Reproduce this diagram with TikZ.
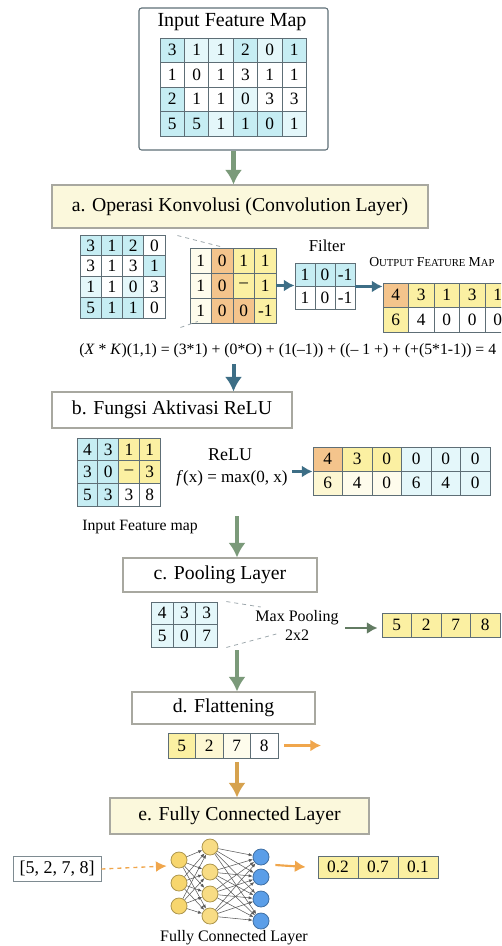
\documentclass[tikz,border=0pt]{standalone}
\usepackage{fontspec}
\setmainfont{Liberation Serif}
\usetikzlibrary{arrows.meta,calc}
\tikzset{>=Latex}

\definecolor{cyn}{HTML}{C6EDF3}
\definecolor{cynpale}{HTML}{E4F7FA}
\definecolor{yel}{HTML}{FBF0A2}
\definecolor{yelpale}{HTML}{FDF7D2}
\definecolor{cream}{HTML}{FEFCEC}
\definecolor{org}{HTML}{F4C48C}
\definecolor{boxyel}{HTML}{FBF8DC}
\definecolor{boxline}{HTML}{A8A8A0}
\definecolor{gridline}{HTML}{5E6E76}
\definecolor{arrgreen}{HTML}{7B9A7A}
\definecolor{arrteal}{HTML}{3D6E86}
\definecolor{arrorange}{HTML}{F0A64C}
\definecolor{arrtan}{HTML}{D6A24E}
\definecolor{nodeyel}{HTML}{F7D66E}
\definecolor{nodeblue}{HTML}{5B9EE8}

\tikzset{
  cell/.style={draw=gridline, line width=0.7pt, inner sep=0pt, font=\fontsize{13}{13}\selectfont},
  stage/.style={draw=boxline, line width=0.8pt, font=\fontsize{14.8}{14.8}\selectfont},
  fatarrow/.style={line width=3.5pt, -{Latex[length=11pt,width=13pt]}},
  thinarrow/.style={line width=1.6pt, -{Latex[length=8pt,width=9pt]}},
  neuron/.style={circle, minimum size=12pt, inner sep=0pt, line width=0.6pt},
  zoomline/.style={gridline!60, dashed, line width=0.6pt}
}

% one row of grid cells: name, left x, top y, cell width, cell height, value/colour list
\newcommand\cellrow[6]{%
  \foreach \v/\c [count=\i] in {#6}
    \node[cell, minimum width=#4*0.75pt, minimum height=#5*0.75pt, fill=\c]
      (#1-\i) at ({#2+(\i-0.5)*#4}, {#3+#5/2}) {\v};
}
% capital letter followed by smaller capitals
\newcommand\capword[2]{{\fontsize{10.3}{10.3}\selectfont #1}{\fontsize{8}{8}\selectfont #2}}

\begin{document}
\begin{tikzpicture}[x=0.75pt, y=-0.75pt]
  \useasboundingbox (0,0) rectangle (501,946);
  \clip (0,0) rectangle (501,946);

  % input feature map
  \node[draw=gridline, line width=0.8pt, rounded corners=2pt, minimum width=189*0.75pt, minimum height=142*0.75pt] (input) at (233.5,79) {};
  \node[font=\fontsize{15}{15}\selectfont] (intitle) at (232,22) {Input Feature Map};
  \cellrow{in1}{160}{38}{24.4}{24.5}{3/cyn,1/cynpale,1/cynpale,2/cyn,0/cynpale,1/cyn}
  \cellrow{in2}{160}{62.5}{24.4}{24.5}{1/white,0/white,1/white,3/white,1/white,1/white}
  \cellrow{in3}{160}{87}{24.4}{24.5}{2/cyn,1/white,1/white,0/cynpale,3/white,3/white}
  \cellrow{in4}{160}{111.5}{24.4}{24.5}{5/cyn,5/cyn,1/cynpale,1/cyn,0/cyn,1/cynpale}

  % a. convolution
  \node[stage, fill=boxyel, minimum width=376*0.75pt, minimum height=43*0.75pt] (conv) at (240,206.5) {a. Operasi Konvolusi (Convolution Layer)};
  \draw[fatarrow, arrgreen] (input.south) -- (input.south |- conv.north);

  \cellrow{cx1}{80}{235}{21.25}{20.75}{3/cyn,1/cyn,2/cyn,0/white}
  \cellrow{cx2}{80}{255.75}{21.25}{20.75}{3/white,1/white,3/white,1/cyn}
  \cellrow{cx3}{80}{276.5}{21.25}{20.75}{1/cynpale,1/white,0/cynpale,3/white}
  \cellrow{cx4}{80}{297.25}{21.25}{20.75}{5/cyn,1/cyn,1/cyn,0/white}

  \cellrow{ck1}{190}{248}{21.5}{25}{1/cream,0/org,1/yel,1/yel}
  \cellrow{ck2}{190}{273}{21.5}{25}{1/cream,0/org,--/yel,1/yel}
  \cellrow{ck3}{190}{298}{21.5}{25}{1/cream,0/org,0/org,-1/yel}
  \draw[zoomline] ($(cx1-4.north east)+(12,1)$) -- ($(ck1-2.north)+(-2,-1)$);
  \draw[zoomline] ($(cx4-4.south east)+(15,9)$) -- ($(ck3-1.south)+(-3,-2)$);

  \node[font=\fontsize{12.5}{12.5}\selectfont] (filtlabel) at (327,246) {Filter};
  \cellrow{fk1}{295}{263}{20}{23}{1/cyn,0/cyn,-1/cyn}
  \cellrow{fk2}{295}{286}{20}{23}{1/white,0/white,-1/white}
  \draw[thinarrow, arrteal] (ck2-4.east) -- (ck2-4.east -| fk1-1.west);

  \node[anchor=west, inner sep=0pt] (outlabel) at (369,262)
    {\capword{O}{UTPUT} \capword{F}{EATURE} \capword{M}{AP}};
  \cellrow{co1}{383}{283}{25.5}{24.5}{4/org,3/yel,1/yel,3/yel,1/yel}
  \cellrow{co2}{383}{307.5}{25.5}{24.5}{6/yel,4/white,0/white,0/white,0/white}
  \draw[thinarrow, arrteal] (fk1-3.south east) -- (fk1-3.south east -| co1-1.west);

  \node[anchor=west, inner sep=0pt, font=\fontsize{11.8}{11.8}\selectfont] (formula) at (79,351)
    {(\textit{X} * \textit{K})(1,1) = (3*1) + (0*O) + (1(\textendash1)) + ((\textendash\ 1 +) + (+(5*1-1)) = 4};

  % b. relu
  \node[stage, minimum width=240*0.75pt, minimum height=36*0.75pt] (relu) at (172,410) {b. Fungsi Aktivasi ReLU};
  \draw[fatarrow, arrteal, line width=3pt] (formula.south -| input.south) ++(0,6) -- (relu.north -| input.south);

  \cellrow{rx1}{77}{438}{20.75}{22.7}{4/cyn,3/cyn,1/yel,1/yel}
  \cellrow{rx2}{77}{460.7}{20.75}{22.7}{3/cyn,0/cyn,--/yel,3/yel}
  \cellrow{rx3}{77}{483.4}{20.75}{22.7}{5/cyn,3/cyn,3/white,8/white}
  \node[font=\fontsize{11.8}{11.8}\selectfont] (rxlabel) at (140,527) {Input Feature map};

  \node[font=\fontsize{13.5}{13.5}\selectfont] (relulabel) at (230,455) {ReLU};
  \node[font=\fontsize{12.8}{12.8}\selectfont] (relufun) at (232,478) {\textit{f}(x) = max(0, x)};

  \cellrow{ry1}{313}{447}{29.5}{24}{4/org,3/yel,0/yel,0/cynpale,0/cynpale,0/cynpale}
  \cellrow{ry2}{313}{471}{29.5}{24}{6/yelpale,4/cream,0/cream,6/cynpale,4/cynpale,0/cynpale}
  \draw[thinarrow, arrteal] (ry1-1.south west -| relufun.east) -- (ry1-1.south west);

  % c. pooling
  \node[stage, minimum width=194*0.75pt, minimum height=34*0.75pt] (pool) at (220,575) {c. Pooling Layer};
  \coordinate (r2p) at (237,516);
  \draw[fatarrow, arrgreen] (r2p) -- (r2p |- pool.north);

  \cellrow{px1}{151}{602}{22.3}{22.5}{4/cynpale,3/cynpale,3/cynpale}
  \cellrow{px2}{151}{624.5}{22.3}{22.5}{5/cynpale,0/cynpale,7/cynpale}
  \node[font=\fontsize{12}{12}\selectfont] (maxpool) at (297,618) {Max Pooling};
  \node[font=\fontsize{12}{12}\selectfont] (twobytwo) at (297,635) {2x2};
  \draw[zoomline] ($(px1-3.north east)+(8,0)$) -- ($(maxpool.north west)+(10,1)$);
  \draw[zoomline] ($(px2-3.south east)+(8,0)$) -- ($(twobytwo.west)+(-4,-1)$);

  \cellrow{py}{382}{613}{29.5}{24}{5/yel,2/yel,7/yel,8/yel}
  \draw[thinarrow, arrgreen!80!black] ($(maxpool.east |- py-1.west)+(2,3)$) -- ($(py-1.west)+(-4,3)$);

  % d. flattening
  \node[stage, minimum width=183*0.75pt, minimum height=32*0.75pt] (flat) at (223.5,708) {d. Flattening};
  \coordinate (p2f) at (237,650);
  \draw[fatarrow, arrgreen] (p2f) -- (p2f |- flat.north);

  \cellrow{fl}{168}{733}{27.5}{25}{5/yel,2/yelpale,7/cream,8/white}
  \coordinate (flend) at (321,745.5);
  \draw[thinarrow, arrorange] (fl-4.east) ++(6,0) -- (flend);

  % e. fully connected
  \node[stage, fill=boxyel, minimum width=259*0.75pt, minimum height=36*0.75pt] (fc) at (239.5,816) {e. Fully Connected Layer};
  \coordinate (f2c) at (237,762);
  \draw[fatarrow, arrtan] (f2c) -- (f2c |- fc.north);

  \node[draw=gridline!80, line width=0.7pt, minimum width=88*0.75pt, minimum height=23*0.75pt, font=\fontsize{13.5}{13.5}\selectfont] (vec) at (57,869) {[5, 2, 7, 8]};

  \foreach \y [count=\i] in {860,883,906}
    \node[neuron, fill=nodeyel, draw=nodeyel!70!black] (h1-\i) at (179,\y) {};
  \foreach \y [count=\i] in {847,872,894,916}
    \node[neuron, fill=nodeyel!85!white, draw=nodeyel!70!black] (h2-\i) at (210,\y) {};
  \foreach \y [count=\i] in {857,877,899,921}
    \node[neuron, fill=nodeblue, draw=nodeblue!70!black] (h3-\i) at (261,\y) {};
  \foreach \a in {1,2,3}
    \foreach \b in {1,...,4}
      \draw[gray!70!black, line width=0.4pt, -{Latex[length=3pt,width=2.5pt]}] (h1-\a) -- (h2-\b);
  \foreach \a in {1,...,4}
    \foreach \b in {1,...,4}
      \draw[gray!70!black, line width=0.4pt, -{Latex[length=3pt,width=2.5pt]}] (h2-\a) -- (h3-\b);

  \draw[arrorange, dashed, line width=1pt, -{Latex[length=8pt,width=8pt]}] (vec.east) -- ($(h1-1.west)+(-4,6)$);
  \node[font=\fontsize{12}{12}\selectfont] (fclabel) at (234,938) {Fully Connected Layer};

  \cellrow{out}{318}{856}{40}{22}{0.2/yel,0.7/yel,0.1/yel}
  \draw[thinarrow, arrorange] ($(h3-1.east)+(6,8)$) -- ($(out-1.west)+(-12,0)$);
\end{tikzpicture}
\end{document}
